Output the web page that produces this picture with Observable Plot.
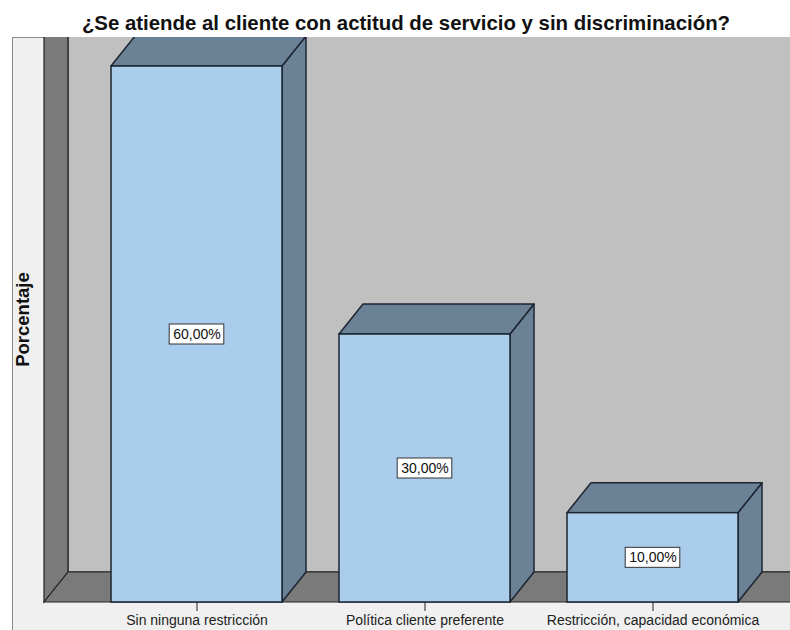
<!DOCTYPE html>
<html>
<head>
<meta charset="utf-8">
<script src="https://cdn.jsdelivr.net/npm/d3@7"></script>
<script src="https://cdn.jsdelivr.net/npm/@observablehq/plot@0.6"></script>
<style>
  body { margin: 0; background: #ffffff; font-family: "Liberation Sans", Arial, sans-serif; }
  #wrap { position: relative; width: 790px; height: 630px; overflow: hidden; }
  #title { position: absolute; left: 16px; top: 13px; width: 780px; text-align: center;
           font-size: 20.4px; line-height: 20px; font-weight: bold; color: #111; white-space: nowrap; }
  #panel { position: absolute; left: 12px; top: 37px; width: 800px; height: 600px;
           background: #f0f0f0; border-left: 1px solid #8c8c8c; border-top: 1px solid #8c8c8c; }
  #chart { position: absolute; left: 0; top: 37px; }
</style>
</head>
<body>
<div id="wrap">
  <div id="title"></div>
  <div id="panel"></div>
  <div id="chart"></div>
</div>
<script>
// ---- data ----
const chartTitle = "¿Se atiende al cliente con actitud de servicio y sin discriminación?";
const yAxisTitle = "Porcentaje";
const categories = ["Sin ninguna restricción", "Política cliente preferente", "Restricción, capacidad económica"];
const percentages = [60, 30, 10];
const valueLabels = ["60,00%", "30,00%", "10,00%"];
const yDomain = [0, 60];

const data = categories.map((c, i) => ({cat: c, pct: percentages[i], label: valueLabels[i]}));

// ---- style ----
const W = 790, H = 593;
const DX = 24, DY = 30;           // 3D depth offset in pixels
const COL = {
  front: "#aacdec", shade: "#6a8196", wall: "#7a7a7a", back: "#c0c0c0",
  edge: "#1d2530", wallEdge: "#222222", box: "#ffffff", boxEdge: "#333333"
};

document.getElementById("title").textContent = chartTitle;

function pick(args) {
  const scales = args.find(a => a && typeof a.x === "function" && typeof a.y === "function");
  const dims = args.find(a => a && typeof a.width === "number" && typeof a.marginLeft === "number");
  return {scales, dims};
}
function bandwidthOf(x) {
  return typeof x.bandwidth === "function" ? x.bandwidth() : x.bandwidth;
}
const poly = pts => pts.map(p => p.join(",")).join(" ");

// walls and floor
const walls = (...args) => {
  const {scales, dims} = pick(args);
  const y = scales.y;
  const y0 = y(0);
  const L = dims.marginLeft;
  const g = d3.create("svg:g");
  // back wall
  g.append("rect").attr("x", L + DX).attr("y", -2).attr("width", W).attr("height", y0 - DY + 2)
    .attr("fill", COL.back).attr("stroke", COL.wallEdge).attr("stroke-width", 1.2);
  // left wall
  g.append("polygon").attr("points", poly([[L, -40], [L + DX, -40], [L + DX, y0 - DY], [L, y0]]))
    .attr("fill", COL.wall).attr("stroke", COL.wallEdge).attr("stroke-width", 1.2);
  // floor
  g.append("polygon").attr("points", poly([[L, y0], [L + DX, y0 - DY], [W + 10, y0 - DY], [W + 10, y0]]))
    .attr("fill", COL.wall).attr("stroke", COL.wallEdge).attr("stroke-width", 1.2);
  // y axis title
  g.append("text").attr("transform", `translate(29,${(y(yDomain[0]) + y(yDomain[1])) / 2 - 14.5}) rotate(-90)`)
    .attr("text-anchor", "middle").attr("font-size", 18.5).attr("font-weight", "bold").attr("fill", "#111")
    .text(yAxisTitle);
  return g.node();
};

// top and side faces of bars
const depthFaces = (...args) => {
  const {scales} = pick(args);
  const x = scales.x, y = scales.y, bw = bandwidthOf(x);
  const y0 = y(0);
  const g = d3.create("svg:g");
  for (const d of data) {
    const x1 = x(d.cat), x2 = x1 + bw, yt = y(d.pct);
    g.append("polygon").attr("points", poly([[x2, yt], [x2 + DX, yt - DY], [x2 + DX, y0 - DY], [x2, y0]]))
      .attr("fill", COL.shade).attr("stroke", COL.edge).attr("stroke-width", 1.5).attr("stroke-linejoin", "round");
    g.append("polygon").attr("points", poly([[x1, yt], [x1 + DX, yt - DY], [x2 + DX, yt - DY], [x2, yt]]))
      .attr("fill", COL.shade).attr("stroke", COL.edge).attr("stroke-width", 1.5).attr("stroke-linejoin", "round");
  }
  return g.node();
};

// label boxes
const labelBoxes = (...args) => {
  const {scales} = pick(args);
  const x = scales.x, y = scales.y, bw = bandwidthOf(x);
  const g = d3.create("svg:g");
  for (const d of data) {
    const cx = x(d.cat) + bw / 2, cy = y(d.pct / 2);
    const w = 8.1 * d.label.length + 6, h = 20;
    g.append("rect").attr("x", cx - w / 2).attr("y", cy - h / 2).attr("width", w).attr("height", h)
      .attr("fill", COL.box).attr("stroke", COL.boxEdge).attr("stroke-width", 1);
  }
  return g.node();
};

const chart = Plot.plot({
  width: W,
  height: H,
  marginLeft: 44,
  marginRight: 0,
  marginTop: 29,
  marginBottom: 28,
  style: {background: "transparent", fontFamily: "'Liberation Sans', Arial, sans-serif", fontSize: "14px", color: "#222", overflow: "hidden"},
  x: {domain: categories, range: [82.5, 766.5], paddingInner: 0.25, paddingOuter: 0.125,
      tickSize: 9, tickPadding: 3.5, label: null},
  y: {domain: yDomain, axis: null},
  marks: [
    walls,
    depthFaces,
    Plot.barY(data, {x: "cat", y: "pct", fill: COL.front, stroke: COL.edge, strokeWidth: 1.5}),
    labelBoxes,
    Plot.text(data, {x: "cat", y: d => d.pct / 2, text: "label", fontSize: 14, fill: "#111"})
  ]
});
document.getElementById("chart").appendChild(chart);
</script>
</body>
</html>
